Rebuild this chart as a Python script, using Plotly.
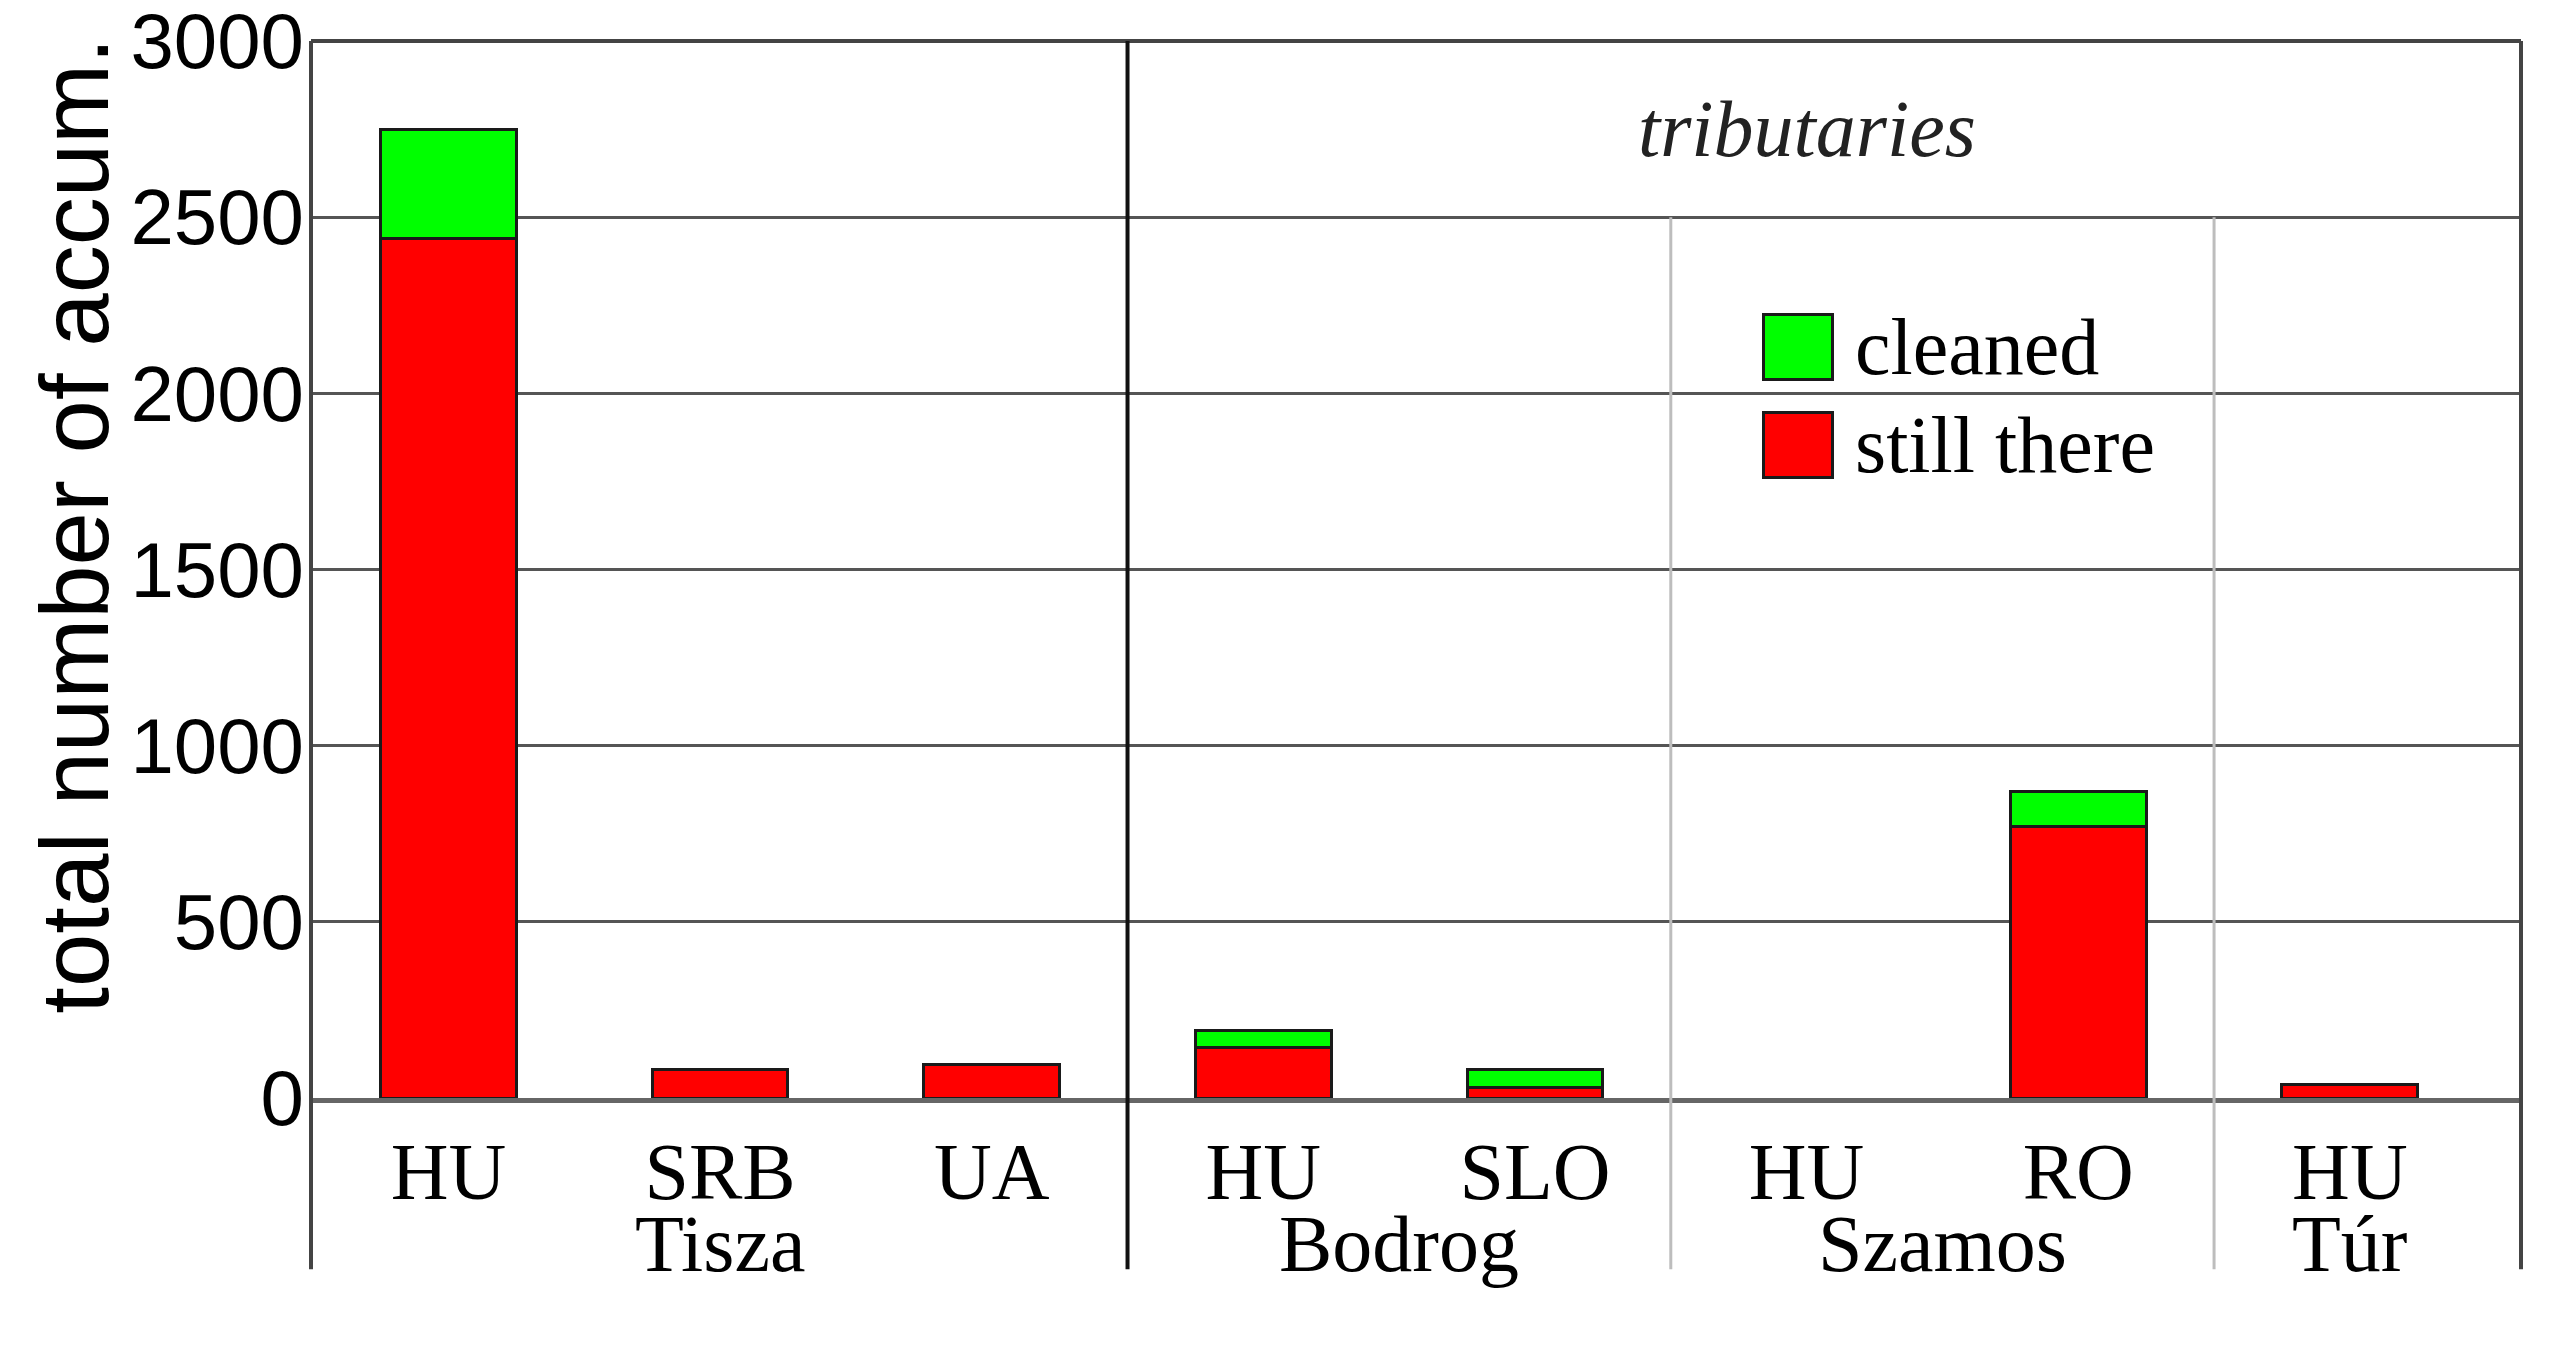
"""
Accumulations along the Tisza and its tributaries: cleaned vs still there.
"""

import plotly.graph_objects as go

# data
rivers = ["Tisza", "Tisza", "Tisza", "Bodrog", "Bodrog", "Szamos", "Szamos", "Túr"]
countries = ["HU", "SRB", "UA", "HU", "SLO", "HU", "RO", "HU"]
still_there = [2440, 80, 95, 142, 30, 0, 770, 37]
cleaned = [310, 0, 0, 50, 50, 0, 100, 0]
series_names = ["cleaned", "still there"]
y_ticks = [0, 500, 1000, 1500, 2000, 2500, 3000]
header_text = "tributaries"
header_level = 2500

COLORS = {
    "cleaned": "#00FF00",
    "still": "#FF0000",
    "outline": "#1a1a1a",
    "grid": "#555555",
    "frame": "#444444",
    "main_div": "#111111",
    "sub_div": "#bdbdbd",
}
SERIF = "Liberation Serif, Times New Roman, serif"
SANS = "Liberation Sans, Arial, sans-serif"

# unique category keys, shown with the country code only
keys = [f"{r}|{c}" for r, c in zip(rivers, countries)]


def outline_widths(values):
    # no outline on empty segments
    return [3 if v else 0 for v in values]


fig = go.Figure()
fig.add_trace(
    go.Bar(
        x=keys,
        y=still_there,
        name=series_names[1],
        marker=dict(color=COLORS["still"],
                    line=dict(color=COLORS["outline"], width=outline_widths(still_there))),
    )
)
fig.add_trace(
    go.Bar(
        x=keys,
        y=cleaned,
        name=series_names[0],
        marker=dict(color=COLORS["cleaned"],
                    line=dict(color=COLORS["outline"], width=outline_widths(cleaned))),
    )
)

# page body has an 8px margin, so the figure is 8px smaller and shifted
fig.update_layout(
    width=2559,
    height=1338,
    barmode="stack",
    bargap=0.5,
    showlegend=False,
    paper_bgcolor="white",
    plot_bgcolor="white",
    margin=dict(l=303, r=46, t=33, b=248, autoexpand=False),
    font=dict(family=SERIF, size=80, color="black"),
)
fig.update_xaxes(
    type="category",
    automargin=False,
    range=[-0.506, len(keys) - 1 + 0.63],
    tickvals=keys,
    ticktext=countries,
    tickfont=dict(family=SERIF, size=80, color="black"),
    ticks="",
    showgrid=False,
    showline=True,
    linecolor="#666666",
    linewidth=5,
    zeroline=False,
)
fig.update_yaxes(
    automargin=False,
    range=[0, 3000],
    tickvals=y_ticks,
    tickfont=dict(family=SANS, size=78, color="black"),
    ticks="",
    ticklabelstandoff=6,
    ticklabeloverflow="allow",
    showgrid=True,
    gridcolor=COLORS["grid"],
    gridwidth=3,
    zeroline=False,
    showline=False,
)

# frame: left/right edges running down through the label band, top edge
bottom = -0.162
for xp in (0, 1):
    fig.add_shape(type="line", xref="paper", yref="paper", x0=xp, x1=xp, y0=bottom, y1=1,
                  line=dict(color=COLORS["frame"], width=4))
fig.add_shape(type="line", xref="paper", yref="paper", x0=0, x1=1, y0=1, y1=1,
              line=dict(color=COLORS["frame"], width=4))

# group dividers between rivers
for i in range(1, len(rivers)):
    if rivers[i] != rivers[i - 1]:
        main = rivers[i - 1] == rivers[0]
        fig.add_shape(
            type="line", xref="x", yref="paper", x0=i - 0.5, x1=i - 0.5,
            y0=bottom, y1=1 if main else header_level / y_ticks[-1],
            line=dict(color=COLORS["main_div"] if main else COLORS["sub_div"],
                      width=4 if main else 3),
        )

# river names under the country codes
groups = []
for i, r in enumerate(rivers):
    if not groups or groups[-1][0] != r:
        groups.append([r, []])
    groups[-1][1].append(i)
for r, idx in groups:
    fig.add_annotation(x=sum(idx) / len(idx), y=-0.138, xref="x", yref="paper",
                       text=r, showarrow=False, yanchor="middle",
                       font=dict(family=SERIF, size=80, color="black"))

# header over the tributaries
trib = [i for i, r in enumerate(rivers) if r != rivers[0]]
fig.add_annotation(x=(trib[0] + trib[-1]) / 2, y=(header_level + y_ticks[-1]) / 2,
                   xref="x", yref="y", text=f"<i>{header_text}</i>", showarrow=False,
                   font=dict(family=SERIF, size=80, color="#222222"))

# y axis title
fig.add_annotation(x=-0.107, y=0.541, xref="paper", yref="paper",
                   xanchor="center", yanchor="middle",
                   text="total number of accum.", textangle=-90, showarrow=False,
                   font=dict(family=SANS, size=96, color="black"))

# legend with large swatches
for name, color, yp in [
    (series_names[0], COLORS["cleaned"], 0.7105),
    (series_names[1], COLORS["still"], 0.618),
]:
    fig.add_annotation(x=0.6727, y=yp, xref="paper", yref="paper", text="",
                       xanchor="center", yanchor="middle",
                       showarrow=False, width=66, height=62, bgcolor=color,
                       bordercolor=COLORS["outline"], borderwidth=3, borderpad=0)
    fig.add_annotation(x=0.6977, y=yp, xref="paper", yref="paper", text=name,
                       showarrow=False, xanchor="left", yanchor="middle",
                       font=dict(family=SERIF, size=80, color="black"))

fig.write_html("out.html")
